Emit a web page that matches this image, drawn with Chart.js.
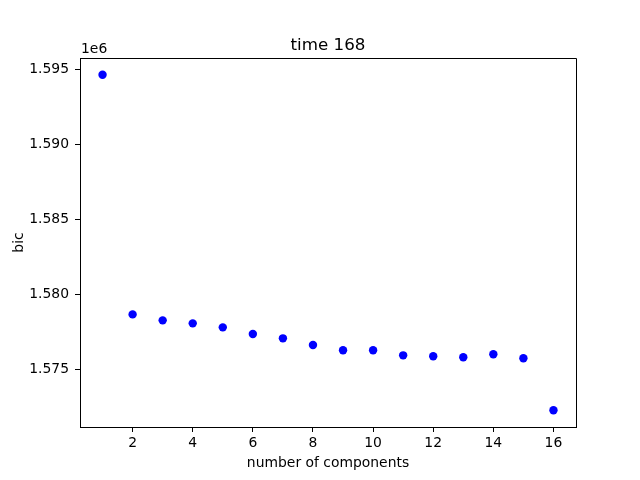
<!DOCTYPE html>
<html>
<head>
<meta charset="utf-8">
<script src="https://cdn.jsdelivr.net/npm/chart.js@4"></script>
<style>
html,body{margin:0;padding:0;background:#fff;}
#wrap{width:640px;height:480px;}
</style>
</head>
<body>
<div id="wrap"><canvas id="c" width="640" height="480"></canvas></div>
<script>
const components = [1,2,3,4,5,6,7,8,9,10,11,12,13,14,15,16];
const bicValues = [1594667,1578667,1578267,1578067,1577800,1577353,1577067,1576620,1576267,1576267,1575933,1575867,1575800,1576000,1575733,1572267];
const xTicks = [2,4,6,8,10,12,14,16];
const yTicks = [1575000,1580000,1585000,1590000,1595000];
const titleText = 'time 168';
const xLabel = 'number of components';
const yLabel = 'bic';
const offsetText = '1e6';

const FONT = 'DejaVu Sans';

const points = components.map((c,i)=>({x:c,y:bicValues[i]}));
const yMinData = Math.min(...bicValues), yMaxData = Math.max(...bicValues);
const yMargin = (yMaxData - yMinData) * 0.05;
const xMinData = Math.min(...components), xMaxData = Math.max(...components);
const xMargin = (xMaxData - xMinData) * 0.05;

const decor = {
  id:'decor',
  afterDraw(chart){
    const ctx = chart.ctx, a = chart.chartArea;
    ctx.save();
    ctx.strokeStyle = '#000';
    ctx.lineWidth = 1;
    ctx.beginPath();
    ctx.moveTo(a.left, a.top+0.5);
    ctx.lineTo(a.right+0.5, a.top+0.5);
    ctx.lineTo(a.right+0.5, a.bottom);
    ctx.stroke();
    ctx.fillStyle = '#000';
    ctx.font = '16.7px "' + FONT + '"';
    ctx.textAlign = 'center';
    ctx.textBaseline = 'alphabetic';
    ctx.fillText(titleText, (a.left+a.right)/2, 50);
    ctx.font = '13.9px "' + FONT + '"';
    ctx.textAlign = 'left';
    ctx.fillText(offsetText, a.left+1, 52.5);
    ctx.textAlign = 'center';
    ctx.fillText(xLabel, (a.left+a.right)/2, 467);
    ctx.translate(22.5, (a.top+a.bottom)/2);
    ctx.rotate(-Math.PI/2);
    ctx.fillText(yLabel, 0, 0);
    ctx.restore();
  }
};

new Chart(document.getElementById('c'), {
  type:'scatter',
  data:{datasets:[{
    data:points,
    backgroundColor:'#0000ff',
    borderColor:'#0000ff',
    pointRadius:4.2,
    pointHoverRadius:4.2,
    borderWidth:0
  }]},
  options:{
    responsive:false,
    animation:false,
    devicePixelRatio:1,
    layout:{padding:{left:0,top:58,right:64,bottom:0}},
    plugins:{legend:{display:false},title:{display:false},tooltip:{enabled:false}},
    scales:{
      x:{
        type:'linear',
        min:xMinData - xMargin,
        max:xMaxData + xMargin,
        afterFit(s){ s.height = 53; },
        afterBuildTicks(s){ s.ticks = xTicks.map(v=>({value:v})); },
        ticks:{
          callback:(v)=>String(v),
          color:'#000',
          font:{family:FONT,size:13.9},
          padding:3,
          maxRotation:0,
          autoSkip:false
        },
        grid:{drawOnChartArea:false,drawTicks:true,tickLength:5,color:'#000'},
        border:{display:true,color:'#000',width:1}
      },
      y:{
        type:'linear',
        min:yMinData - yMargin,
        max:yMaxData + yMargin,
        afterFit(s){ s.width = 80; },
        afterBuildTicks(s){ s.ticks = yTicks.map(v=>({value:v})); },
        ticks:{
          callback:(v)=>(v/1e6).toFixed(3),
          color:'#000',
          font:{family:FONT,size:13.9},
          padding:6,
          autoSkip:false
        },
        grid:{drawOnChartArea:false,drawTicks:true,tickLength:5,color:'#000'},
        border:{display:true,color:'#000',width:1}
      }
    }
  },
  plugins:[decor]
});
</script>
</body>
</html>
